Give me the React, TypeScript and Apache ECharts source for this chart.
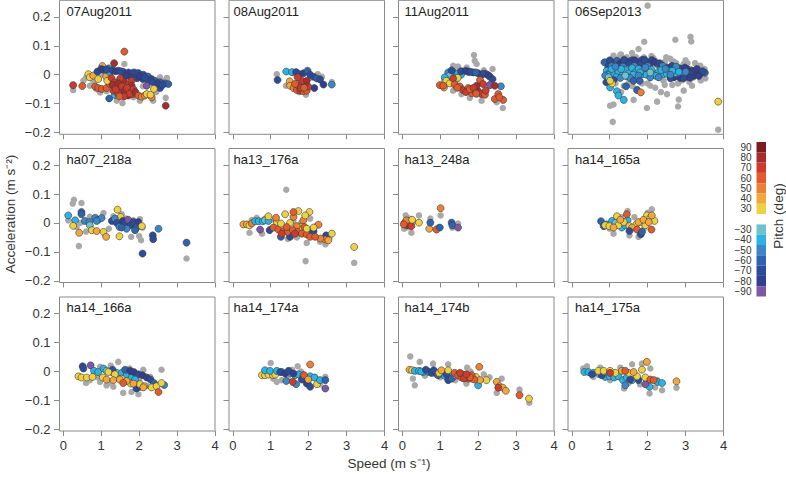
import React, { useEffect, useRef } from 'react';
import * as echarts from 'echarts';

// ---------- tick labels / categories ----------
const panelNames = ['07Aug2011', '08Aug2011', '11Aug2011', '06Sep2013', 'ha07_218a', 'ha13_176a', 'ha13_248a', 'ha14_165a', 'ha14_166a', 'ha14_174a', 'ha14_174b', 'ha14_175a'];
const xTicks = [0, 1, 2, 3, 4];
const yTicks = [-0.2, -0.1, 0, 0.1, 0.2];
const pitchLevels = [90, 80, 70, 60, 50, 40, 30, 0, -30, -40, -50, -60, -70, -80, -90];
const pitchLabels = ['90', '80', '70', '60', '50', '40', '30', ' ', '\u221230', '\u221240', '\u221250', '\u221260', '\u221270', '\u221280', '\u221290'];
const pitchColors = ['#7B1C1E', '#A92B2B', '#CC3B2C', '#E15B2D', '#EC8035', '#F2A73D', '#EED043', '#FFFFFF', '#6CC3CF', '#2BB3E3', '#3B87C9', '#2E63AE', '#2B4C9C', '#323E8F', '#7D58A6'];

// ---------- data: [speed, acceleration] (grey) and [speed, acceleration, pitch] ----------
const gray_07Aug2011 = [[0.26,-0.053],[0.53,-0.02],[0.7,-0.038],[0.88,-0.05],[0.97,-0.061],[1.14,-0.057],[1.41,-0.09],[1.56,-0.098],[1.61,0.037],[1.85,-0.078],[2.02,-0.09],[2.2,-0.003],[2.37,-0.09],[2.55,-0.009],[2.7,-0.08],[2.73,-0.011],[1.0,0.0],[1.3,0.02],[1.75,-0.005],[2.1,-0.04],[2.45,-0.06],[0.6,-0.01],[1.2,-0.03],[2.6,-0.02],[1.9,0.01],[0.8,-0.025],[2.25,-0.025]];
const pitch_07Aug2011 = [[0.26,-0.036,70],[0.5,-0.039,60],[0.66,0.002,30],[0.7,-0.009,30],[0.79,-0.003,40],[0.92,-0.015,30],[0.84,-0.041,60],[0.92,-0.046,60],[1.01,-0.049,60],[1.14,-0.046,60],[1.23,-0.032,60],[1.03,0.03,40],[1.13,-0.007,40],[1.16,-0.021,30],
  [0.9,0.011,-70],[1.06,0.017,-70],[1.2,0.022,-50],[1.23,0.008,-40],[1.45,0.014,-70],[1.58,0.01,-70],[1.72,0.008,-80],[1.85,0.008,-70],[1.98,0.006,-70],[2.11,0,-70],[2.24,-0.007,-60],[2.33,-0.015,-70],[2.42,-0.021,-60],[2.55,-0.026,-60],[2.68,-0.03,-60],[2.77,-0.032,-60],[2.55,-0.046,-70],[1.65,-0.005,-80],[1.8,-0.01,-80],[1.95,-0.012,-70],[2.1,-0.015,-80],[2.25,-0.02,-70],[2.2,-0.038,-90],[1.21,-0.082,-60],[1.36,-0.07,-40],
  [1.0,0.02,-80],[1.15,0.018,-70],[1.3,0.015,-70],[1.38,0.012,-80],[1.52,0.012,-70],[2.0,-0.005,-80],[2.15,-0.01,-70],[2.35,-0.025,-70],[2.48,-0.03,-80],[2.62,-0.035,-70],
  [1.27,-0.011,70],[1.36,-0.026,70],[1.41,-0.041,70],[1.5,-0.049,80],[1.54,-0.061,70],[1.63,-0.067,70],[1.71,-0.057,80],[1.76,-0.046,70],[1.67,-0.032,70],[1.58,-0.021,80],[1.5,-0.013,70],[1.8,-0.021,70],[1.8,-0.038,80],[1.32,-0.055,70],[1.45,-0.067,70],[1.71,-0.072,80],[1.83,-0.067,70],[1.34,0.04,80],[1.61,0.08,60],
  [1.3,-0.035,80],[1.38,-0.05,70],[1.45,-0.03,80],[1.55,-0.04,70],[1.62,-0.055,80],[1.68,-0.045,70],[1.75,-0.065,70],[1.6,-0.075,70],[1.48,-0.075,60],[1.85,-0.05,70],[1.9,-0.06,80],
  [1.98,-0.072,60],[2.07,-0.076,50],[2.15,-0.072,50],[2.33,-0.078,50],[2.2,-0.067,30],[2.3,-0.069,30],[2.39,-0.049,30],[2.7,-0.107,80]];

const gray_08Aug2011 = [[1.16,0.002],[1.4,-0.038],[1.93,-0.069],[2.24,0.002],[2.35,-0.007],[2.61,-0.025],[1.75,-0.06],[2.05,-0.01],[1.6,0.005]];
const pitch_08Aug2011 = [[1.18,-0.018,-70],[1.41,0.011,-40],[1.56,0.009,-40],[1.67,0.009,-70],[1.76,0.002,-70],[1.86,0.005,-80],[1.97,0.014,-60],[2.04,0,-70],[2.13,-0.007,-70],[2.22,-0.013,-60],[2.3,-0.016,-70],[2.39,-0.034,-80],[2.61,-0.034,-50],[2.15,-0.046,-80],
  [1.5,-0.023,40],[1.51,-0.038,40],[1.6,-0.046,50],[1.69,-0.053,60],[1.78,-0.055,70],[1.86,-0.057,60],[1.95,-0.055,60],[1.99,-0.041,70],[1.9,-0.032,70],[1.82,-0.021,70],[1.95,-0.021,80],[1.73,-0.038,70],[1.64,-0.032,60],[1.71,-0.009,70],[1.8,-0.045,70],[1.88,-0.045,60]];

const gray_11Aug2011 = [[1.89,0.068],[1.91,0.048],[1.96,0.037],[1.34,0.031],[1.47,0.028],[2.38,0.02],[2.29,-0.007],[2.05,-0.026],[1.78,-0.08],[2.09,-0.09],[2.49,-0.095],[2.65,-0.115],[1.34,-0.055],[1.56,-0.067],[2.31,-0.032],[1.96,-0.069],[1.7,0.025],[2.15,0.015],[1.1,-0.02],[1.5,0.0]];
const pitch_11Aug2011 = [[1.21,0.008,-50],[1.34,0.01,-50],[1.47,0.005,-40],[1.6,0.011,-60],[1.74,0.01,-70],[1.87,0.008,-70],[2.0,0.005,-80],[2.09,0,-70],[2.22,0.002,-60],[2.31,-0.007,-50],[2.38,-0.015,-70],[2.6,-0.04,-50],[2.31,-0.036,-90],[1.25,-0.003,-30],[1.12,-0.009,-40],[1.43,-0.015,-40],[1.55,0.0,-40],
  [1.3,0.015,-70],[1.55,0.012,-70],[1.68,0.014,-80],[1.8,0.01,-70],[1.94,0.008,-60],[2.15,0.004,-70],[2.27,-0.002,-80],
  [1.16,-0.021,30],[1.25,-0.03,30],[1.1,-0.044,40],[1.46,-0.011,30],
  [0.99,-0.036,60],[1.08,-0.038,60],[1.34,-0.013,70],[1.38,-0.034,60],[1.52,-0.041,60],[1.6,-0.053,70],[1.74,-0.046,60],[1.83,-0.064,60],[1.91,-0.055,70],[2.0,-0.057,80],[2.09,-0.067,70],[2.18,-0.069,60],[2.05,-0.018,60],[2.13,-0.032,70],[1.96,-0.038,80],[2.44,-0.038,80],[2.44,-0.084,60],[2.53,-0.067,60],[2.66,-0.087,60],[2.56,-0.078,60],
  [1.45,-0.045,60],[1.68,-0.06,70],[1.78,-0.05,60],[1.88,-0.045,70],[2.2,-0.055,70],[1.95,-0.065,60]];

const gray_06Sep2013 = [[2.0,0.239],[3.13,0.131],[3.15,0.115],[2.73,0.121],[1.91,0.114],[1.76,0.089],[1.59,0.075],[1.28,0.069],[1.1,0.066],[2.49,0.06],[2.95,0.037],[3.39,0.031],[3.52,-0.013],[3.17,-0.038],[2.95,-0.055],[2.51,-0.067],[2.82,-0.086],[2.8,-0.11],[2.25,-0.093],[1.98,-0.115],[1.63,-0.087],[1.1,-0.103],[1.01,-0.107],[1.08,-0.163],[3.86,-0.19],[1.72,-0.049],[2.07,-0.038],[2.42,-0.021],[1.37,-0.038],[2.6,0.014],[2.86,0.025],[3.13,0.02],[3.3,0.014],[2.2,0.048],[0.93,0.025],[2.42,0.031],[1.45,0.06],[1.7,0.06],[2.1,0.065],[2.3,0.04],[2.7,0.045],[3.0,0.05],[3.25,0.04],[1.2,0.055],[1.5,-0.03],[1.85,-0.03],[2.2,-0.045],[2.65,-0.035],[2.9,-0.02],[3.2,-0.01],[3.4,0.0],[1.3,-0.06],[2.35,-0.06],
  [1.05,0.04],[1.4,0.045],[1.6,0.05],[1.9,0.06],[2.15,0.058],[2.45,0.045],[2.75,0.04],[3.05,0.04],[3.35,0.03],[3.5,0.02],[1.15,-0.03],[1.6,-0.04],[2.0,-0.03],[2.45,-0.035],[2.8,-0.03],[3.1,-0.025],[3.4,-0.02],[0.9,0.045],[1.3,0.07],[2.6,0.055]];
const pitch_06Sep2013 = [[0.86,0.043,-60],[0.97,0.031,-70],[1.06,0.043,-70],[1.19,0.048,-60],[1.32,0.043,-70],[1.45,0.046,-80],[1.59,0.051,-70],[1.72,0.043,-60],[1.85,0.051,-70],[1.98,0.043,-80],[2.11,0.051,-70],[2.25,0.037,-60],[2.38,0.031,-70],[2.51,0.025,-70],[2.64,0.031,-70],[2.78,0.02,-80],[2.91,0.014,-70],[3.04,0.02,-70],[3.17,0.014,-80],[3.26,0.008,-70],[3.39,0.005,-70],[3.51,0.007,-60],[2.69,-0.009,-80],[2.86,-0.011,-80],[3.04,-0.007,-70],[3.22,-0.003,-80],[2.95,0.005,-50],
  [1.0,0.05,-70],[1.25,0.035,-80],[1.38,0.052,-70],[1.52,0.038,-70],[1.66,0.05,-80],[1.8,0.036,-70],[1.92,0.052,-70],[2.05,0.035,-70],[2.18,0.045,-80],[2.32,0.04,-70],[2.45,0.022,-80],[2.58,0.02,-70],[2.7,0.015,-70],[2.84,0.022,-70],[2.98,0.025,-80],[3.1,0.005,-70],[3.3,0.02,-80],[3.45,0.012,-70],[2.6,-0.012,-70],[2.78,-0.004,-80],[2.95,-0.012,-70],[3.12,-0.01,-80],[3.35,-0.004,-80],
  [1.05,0.03,-50],[1.35,0.028,-50],[1.65,0.03,-50],[2.0,0.03,-50],[2.4,0.03,-50],[2.75,0.028,-50],[3.0,0.01,-50],
  [0.92,0.014,-40],[1.01,0.008,-40],[1.1,0,-40],[1.23,0.008,-40],[1.32,-0.003,-40],[1.41,0.016,-40],[1.5,0.005,-40],[1.59,0.023,-40],[1.67,0.008,-40],[1.76,0.02,-40],[1.89,0.002,-40],[2.03,0.014,-40],[2.16,0,-40],[2.29,0.011,-40],[2.42,0.002,-40],[2.56,0.011,-40],[2.73,0.005,-40],[2.82,0.01,-40],
  [0.95,0.0,-40],[1.05,0.02,-40],[1.17,-0.008,-40],[1.3,0.02,-40],[1.45,-0.006,-40],[1.62,0.0,-40],[1.8,0.008,-40],[1.97,0.0,-40],[2.1,0.018,-40],[2.22,-0.004,-40],[2.36,0.016,-40],[2.5,0.004,-40],[2.65,0.014,-40],[0.98,-0.015,-30],
  [0.88,-0.003,-50],[1.15,0.028,-50],[1.28,-0.011,-50],[1.54,-0.011,-50],[1.76,-0.003,-50],[1.94,0.025,-50],[2.07,-0.009,-50],[2.29,-0.009,-50],[2.6,0,-50],[2.47,0.02,-50],
  [0.91,-0.026,-70],[1.1,-0.018,-70],[0.97,-0.009,-30],[1.41,-0.003,-30],[2.07,0.008,-30],
  [1.01,-0.044,-40],[1.19,-0.057,-40],[1.23,-0.072,-40],[1.37,-0.087,-40],[1.43,-0.04,-60],[1.63,-0.021,-60],[1.72,-0.053,-60],[1.79,-0.021,-60],
  [1.06,-0.03,30],[1.01,-0.021,30],[1.82,-0.061,50],[3.86,-0.093,30]];

const gray_ha07_218a = [[0.28,0.08],[0.25,0.067],[0.48,0.069],[0.13,0.009],[0.41,-0.08],[0.35,-0.014],[1.06,0.034],[1.54,0.03],[2.02,0.013],[2.09,-0.016],[2.05,-0.06],[1.79,-0.048],[3.25,-0.123],[0.7,0.021],[0.88,0.015],[1.32,0.023],[1.85,0.009],[0.6,-0.03],[1.2,-0.02],[1.65,0.015],[2.0,-0.045],[0.45,0.0]];
const pitch_ha07_218a = [[0.13,0.026,-40],[0.31,0.009,-40],[0.26,-0.01,30],[0.42,-0.034,40],[0.48,0.038,-60],[0.48,0.03,-60],[0.57,0.007,-50],[0.69,0.003,-50],[0.84,0.018,-50],[0.92,0.011,-50],[1.01,0.017,-50],[0.88,0.007,-50],[0.7,-0.008,-30],[0.75,-0.025,30],[0.88,-0.028,40],[1.06,-0.031,30],[1.13,-0.048,40],[1.43,0.046,30],[1.51,0.021,30],[1.48,-0.046,30],
  [1.28,0.007,-70],[1.36,0.015,-50],[1.41,0,-70],[1.48,-0.014,-50],[1.57,0.007,-80],[1.63,-0.002,-70],[1.71,0.011,-90],[1.78,-0.008,-70],[1.85,0.003,-70],[1.93,-0.016,-60],[1.98,0.003,-80],[1.89,-0.025,-60],[2.07,-0.011,30],[1.67,-0.02,-50],[1.54,-0.016,-60],
  [2.36,-0.043,-70],[2.37,-0.056,-70],[2.51,-0.02,-50],[2.09,-0.106,-70],[3.25,-0.068,-60]];

const gray_ha13_176a = [[1.41,0.115],[1.92,-0.132],[3.2,-0.138],[1.95,-0.069],[2.44,-0.074],[0.44,-0.034],[0.77,-0.037],[1.25,-0.048],[1.6,0.009],[2.04,0.015],[2.22,-0.008],[0.63,0.018],[0.99,-0.02],[1.69,-0.05],[0.5,0.01],[0.85,0.015],[1.1,0.01],[1.45,-0.055],[2.3,-0.065],[2.55,-0.05],[1.8,0.0],[2.1,-0.03]];
const pitch_ha13_176a = [[0.28,-0.005,40],[0.37,-0.005,40],[0.44,-0.008,30],[0.5,-0.002,50],[0.59,0.006,-40],[0.68,0.006,-40],[0.79,0.006,-40],[0.85,0.009,-30],[0.94,0.007,-40],[0.72,-0.023,-90],[0.97,-0.025,-70],[1.27,-0.048,-60],[1.51,-0.048,-70],[2.07,-0.025,-60],[2.13,-0.029,-70],[2.46,-0.043,-70],
  [0.94,0.023,30],[1.16,0.003,30],[1.38,0.03,30],[1.73,0.041,30],[2.02,0.038,30],[1.51,0,30],[1.78,-0.014,30],[2.61,-0.037,30],[3.2,-0.083,30],
  [1.14,0.018,50],[1.6,0.021,50],[1.69,-0.011,50],[1.86,0.009,50],[2.26,-0.006,50],[2.44,-0.057,50],[2.31,-0.054,50],[2.52,-0.06,40],
  [1.07,-0.016,60],[1.2,-0.023,60],[1.34,-0.028,60],[1.44,-0.031,60],[1.58,-0.025,60],[1.71,-0.031,60],[1.82,-0.037,60],[1.95,-0.04,60],[2.04,-0.048,60],[2.17,-0.048,60],[1.6,0.038,60],[1.89,-0.014,60],[1.42,-0.014,60],
  [1.29,-0.037,70],[1.64,-0.037,70],[1.27,-0.002,30],[1.95,-0.02,30],[2.13,-0.016,30],[1.91,0.026,30]];

const gray_ha13_248a = [[0.09,0.026],[0.19,0.015],[0.44,0.026],[0.24,-0.034],[0.74,0.015],[1.01,0.026],[1.32,-0.016],[1.47,-0.002],[0.94,-0.016],[0.28,0.003],[0.05,-0.02],[0.15,-0.015]];
const pitch_ha13_248a = [[0.06,0,70],[0.12,-0.008,80],[0.19,-0.002,70],[0.15,0.007,60],[0.24,-0.011,70],[0.11,0.009,50],[0.26,0.011,30],[0.04,-0.005,60],[0.44,0.001,30],[1.01,0.051,50],[0.71,-0.02,40],[0.74,0.001,-60],[0.9,-0.023,60],[0.99,-0.016,-60],[1.3,0.001,-60],[1.32,-0.008,-60],[1.47,-0.016,-90]];

const gray_ha14_165a = [[2.11,0.047],[1.47,0.041],[1.1,-0.037],[1.52,-0.043],[1.76,-0.048],[1.0,-0.02],[1.3,0.02],[1.9,-0.02],[2.0,0.035],[1.65,0.02]];
const pitch_ha14_165a = [[0.77,0.006,-60],[0.84,-0.011,-60],[0.92,-0.005,-40],[1.06,0.007,-40],[1.15,0,-30],[1.32,-0.016,-40],[1.47,0.009,-40],[1.41,-0.008,-40],
  [0.88,-0.008,30],[0.99,-0.011,30],[1.19,0.023,30],[1.23,-0.008,30],[1.37,0.003,30],[1.52,-0.011,30],[1.7,-0.005,30],[1.85,0.003,30],[1.98,0.026,30],[2.07,0.018,30],[2.18,0.007,30],[1.94,-0.008,30],
  [1.1,-0.016,40],[1.28,0.011,40],[1.59,-0.016,40],[1.76,0.003,40],[1.89,0.011,40],[2.03,0.003,40],[2.11,0.026,40],
  [1.45,0.03,60],[1.72,-0.023,60],[2.1,-0.023,60],[1.52,-0.028,-70],[1.82,-0.039,-70],[1.85,-0.031,-60]];

const gray_ha14_166a = [[1.45,0.033],[2.59,0.006],[1.58,-0.074],[1.8,-0.071],[1.98,-0.079],[0.6,-0.04],[0.97,-0.036],[1.14,-0.048],[1.32,-0.053],[0.97,0.016],[2.11,0.006],[2.29,-0.019],[0.9,-0.02],[1.2,-0.04],[1.6,-0.02],[2.0,-0.03],[1.75,0.01],[1.25,0.02],[2.2,-0.05],[0.7,-0.03]];
const pitch_ha14_166a = [[0.51,0.018,-70],[0.53,0.01,-70],[0.72,0.021,-90],
  [0.81,0.002,-40],[0.92,-0.002,-40],[1.06,0.01,-40],[1.14,0.002,-30],[1.28,-0.002,-40],[1.41,-0.005,-30],[1.54,-0.005,-40],[1.67,-0.013,-40],[1.8,-0.021,-40],
  [1.3,0.006,-70],[1.63,0.006,-60],[1.76,0.002,-80],[1.86,-0.002,-80],[1.98,-0.01,-70],[2.09,-0.013,-80],[2.2,-0.021,-80],[2.3,-0.028,-70],[2.39,-0.04,-60],[1.93,-0.059,-70],[2.02,-0.053,-70],[2.66,-0.047,-50],[1.89,-0.028,-40],
  [0.4,-0.017,30],[0.48,-0.021,30],[0.62,-0.021,30],[0.77,-0.019,30],[1.04,-0.021,30],[1.19,-0.002,30],[1.36,-0.01,30],[1.54,-0.025,30],[1.78,-0.042,30],[2.02,-0.044,30],[2.13,-0.051,30],[2.33,-0.055,30],[2.46,-0.051,30],[2.59,-0.04,30],
  [1.14,-0.028,40],[1.32,-0.03,40],[1.49,-0.028,40],[1.67,-0.033,40],[1.85,-0.042,40],[2.11,-0.055,40],[1.58,-0.04,60],[2.51,-0.071,60]];

const gray_ha14_174a = [[1.0,0.029],[1.71,0.018],[1.16,-0.036],[1.07,-0.025],[1.29,-0.03],[2.17,-0.019],[2.44,-0.019],[1.56,0.006],[1.3,0.0],[1.8,0.0],[2.0,-0.04],[1.45,-0.02],[0.9,0.0],[2.3,-0.045]];
const pitch_ha14_174a = [[2.04,0.024,50],[0.77,-0.013,30],[0.85,-0.013,30],[0.94,-0.011,30],[1.06,-0.013,30],[1.12,-0.011,30],[1.99,-0.025,30],[2.22,-0.044,30],
  [0.85,0.004,-40],[0.98,0.002,-40],[1.16,0.002,-40],[1.29,-0.002,-40],[1.51,-0.005,-40],[1.64,-0.013,-40],[1.73,-0.01,-40],[1.86,-0.013,-40],[2.04,-0.017,-40],[2.15,-0.021,-40],[2.3,-0.03,-40],[1.67,-0.044,-50],
  [1.25,-0.002,-70],[1.38,-0.007,-80],[1.47,0.002,-70],[1.6,-0.007,-80],[1.82,-0.028,-70],[1.95,-0.042,-80],[2.04,-0.053,-70],[2.44,-0.03,-60],[1.41,-0.033,-50],
  [2.44,-0.059,-90],[1.58,-0.036,70],[1.88,-0.013,60],[1.99,-0.028,40]];

const gray_ha14_174b = [[0.21,0.052],[0.33,-0.048],[0.46,0.033],[0.81,0.027],[1.21,0.025],[1.71,0.013],[2.15,-0.01],[2.49,-0.074],[2.62,-0.025],[3.09,-0.063],[3.35,-0.108],[0.28,-0.025],[1.69,-0.042],[1.0,-0.02],[1.4,-0.03],[1.8,0.0],[0.6,-0.015],[2.3,-0.02]];
const pitch_ha14_174b = [[0.19,0.006,40],[0.26,0.004,30],
  [0.33,0.002,-40],[0.44,0.002,-40],[0.55,-0.002,-40],[0.71,-0.002,-40],[0.86,-0.005,-40],[1.08,-0.01,-40],[1.34,-0.019,-40],[2.0,-0.048,-40],
  [0.5,0.0,-40],[0.66,0.0,-40],[0.92,-0.008,-40],[1.12,-0.015,-40],[1.25,-0.012,-40],
  [0.62,0.006,-70],[0.77,-0.005,-70],[0.83,0.004,-70],[0.94,-0.013,-60],[1.16,-0.01,-70],[1.21,-0.03,-70],[1.3,-0.025,-60],[1.0,-0.002,-70],
  [0.97,-0.005,30],[1.21,0.004,30],[1.43,-0.013,30],[1.83,-0.025,30],[1.94,-0.019,30],[2.22,-0.03,30],[3.34,-0.094,30],
  [1.03,0.004,40],[1.6,-0.013,40],[2.05,-0.03,40],[2.49,-0.036,40],[2.56,-0.051,40],[2.65,-0.056,40],[2.73,-0.067,40],
  [1.38,-0.005,60],[1.47,-0.013,60],[1.56,-0.021,60],[1.65,-0.016,60],[1.74,-0.025,60],[1.83,-0.013,60],[1.9,-0.028,60],[2.03,0.016,50],[3.09,-0.082,60],[2.53,-0.056,70],
  [1.58,-0.01,60],[1.7,-0.02,60],[1.78,-0.02,60],[1.62,-0.024,70],
  [1.52,-0.005,70],[1.69,-0.01,70]];

const gray_ha14_175a = [[0.4,0.018],[0.75,0.013],[1.28,0.013],[1.59,0.025],[1.85,0.027],[2.07,0.01],[2.05,-0.076],[2.38,-0.065],[2.76,-0.056],[1.38,-0.059],[1.01,-0.03],[0.57,-0.019],[2.25,-0.03],[0.9,-0.005],[1.5,-0.04],[1.8,-0.045],[2.2,-0.055],[0.3,0.01]];
const pitch_ha14_175a = [[0.33,-0.002,-40],[0.44,-0.002,-40],[0.57,-0.005,-40],[0.73,-0.01,-40],[0.88,-0.019,-40],[1.0,-0.017,-40],[1.12,-0.021,-40],[1.23,-0.017,-40],[1.35,-0.03,-40],[1.45,-0.021,-40],[1.59,-0.03,-40],[1.98,-0.03,-40],[2.05,-0.053,-40],[2.26,-0.036,-40],[2.38,-0.04,-40],
  [0.53,-0.01,-70],[0.79,-0.013,-70],[1.41,-0.048,-50],[1.54,-0.028,-70],[1.76,-0.03,-70],[1.94,-0.044,-90],
  [0.7,0.002,30],[0.84,0.002,30],[1.01,0.002,30],[1.15,-0.005,30],[1.5,-0.005,30],[1.85,0.006,30],[1.72,-0.017,30],[1.94,-0.021,30],
  [1.98,0.033,40],[2.76,-0.034,40],[1.32,0.002,40],[1.63,-0.002,40],
  [1.41,0.002,60],[1.01,-0.005,70],[2.07,-0.028,60],[2.16,-0.03,60]];

const grayByPanel = [gray_07Aug2011, gray_08Aug2011, gray_11Aug2011, gray_06Sep2013, gray_ha07_218a, gray_ha13_176a, gray_ha13_248a, gray_ha14_165a, gray_ha14_166a, gray_ha14_174a, gray_ha14_174b, gray_ha14_175a];
const pitchByPanel = [pitch_07Aug2011, pitch_08Aug2011, pitch_11Aug2011, pitch_06Sep2013, pitch_ha07_218a, pitch_ha13_176a, pitch_ha13_248a, pitch_ha14_165a, pitch_ha14_166a, pitch_ha14_174a, pitch_ha14_174b, pitch_ha14_175a];

// ---------- layout ----------
const FONT = '"Liberation Sans", Arial, Helvetica, sans-serif';
const colLeft = [59.5, 229, 398.5, 568];
const rowTop = [0.3, 148.5, 297];
const PW = 155.5;
const PH = 134;
const titleX = [66.5, 233.5, 404.5, 575];
const BOX = '#8a8a8a';
const TXT = '#333333';

const fmtY = (v: number) => {
  const r = Math.round(v * 10) / 10;
  if (r === 0) return '0';
  return (r < 0 ? '\u2212' : '') + Math.abs(r).toFixed(1);
};

export default function App() {
  const ref = useRef<HTMLDivElement>(null);
  useEffect(() => {
    document.body.style.margin = '0';
    const chart = echarts.init(ref.current as HTMLDivElement, null, { renderer: 'svg' });
    const grids: any[] = [];
    const xAxes: any[] = [];
    const yAxes: any[] = [];
    const series: any[] = [];
    const colored: number[] = [];
    const graphics: any[] = [];
    panelNames.forEach((name, i) => {
      const r = Math.floor(i / 4);
      const c = i % 4;
      grids.push({ left: colLeft[c], top: rowTop[r], width: PW, height: PH, show: true, borderColor: BOX, borderWidth: 1, backgroundColor: 'transparent', containLabel: false });
      xAxes.push({
        type: 'value', gridIndex: i, min: -0.1, max: 4,
        axisLine: { show: false, onZero: false },
        axisTick: { show: true, length: 5, lineStyle: { color: BOX, width: 1 }, customValues: xTicks },
        axisLabel: { show: r === 2, customValues: xTicks, fontSize: 13, color: TXT, margin: 8, fontFamily: FONT },
        splitLine: { show: false },
      });
      yAxes.push({
        type: 'value', gridIndex: i, min: -0.206, max: 0.2575,
        axisLine: { show: false, onZero: false },
        axisTick: { show: true, length: 5.5, lineStyle: { color: BOX, width: 1 }, customValues: yTicks },
        axisLabel: { show: c === 0, customValues: yTicks, fontSize: 13, color: TXT, margin: 9, fontFamily: FONT, formatter: fmtY },
        splitLine: { show: false },
      });
      series.push({
        type: 'scatter', xAxisIndex: i, yAxisIndex: i, data: grayByPanel[i], symbolSize: 6.5,
        itemStyle: { color: '#a9a9a9', opacity: 1 }, silent: true, z: 2,
      });
      colored.push(series.length);
      series.push({
        type: 'scatter', xAxisIndex: i, yAxisIndex: i, data: pitchByPanel[i], symbolSize: 7,
        itemStyle: { borderColor: '#3a3a3a', borderWidth: 0.6, opacity: 1 }, silent: true, z: 3,
      });
      graphics.push({
        type: 'text', x: titleX[c], y: rowTop[r] + 10.8,
        style: { text: name, fontSize: 13, fontFamily: FONT, fill: '#222', align: 'left', verticalAlign: 'middle' },
      });
    });
    graphics.push({
      type: 'text', x: 389, y: 463,
      style: { text: 'Speed (m s\u207B\u00B9)', fontSize: 13.5, fontFamily: FONT, fill: TXT, align: 'center', verticalAlign: 'middle' },
    });
    graphics.push({
      type: 'text', x: 10, y: 214, rotation: Math.PI / 2,
      style: { text: 'Acceleration (m s\u207B\u00B2)', fontSize: 13.5, fontFamily: FONT, fill: TXT, align: 'center', verticalAlign: 'middle' },
    });
    graphics.push({
      type: 'text', x: 778, y: 216, rotation: Math.PI / 2,
      style: { text: 'Pitch (deg)', fontSize: 13.5, fontFamily: FONT, fill: TXT, align: 'center', verticalAlign: 'middle' },
    });
    const pieces = pitchLevels.map((lv, k) =>
      lv === 0
        ? { min: -25, max: 25, label: pitchLabels[k], color: pitchColors[k] }
        : { min: lv - 5, max: lv + 5, label: pitchLabels[k], color: pitchColors[k] }
    );
    const option: any = {
      animation: false,
      backgroundColor: '#ffffff',
      textStyle: { fontFamily: FONT },
      grid: grids,
      xAxis: xAxes,
      yAxis: yAxes,
      series,
      visualMap: {
        type: 'piecewise', dimension: 2, seriesIndex: colored, pieces,
        orient: 'vertical', right: 20, top: 142, padding: 0,
        itemWidth: 9.5, itemHeight: 10.3, itemGap: 0, itemSymbol: 'rect',
        align: 'right', textGap: 5, selectedMode: false, hoverLink: false,
        textStyle: { fontSize: 10, color: TXT, fontFamily: FONT },
      },
      graphic: graphics,
    };
    chart.setOption(option);
    return () => chart.dispose();
  }, []);
  return <div ref={ref} style={{ width: 786, height: 477, position: 'absolute', left: 0, top: 0 }} />;
}
